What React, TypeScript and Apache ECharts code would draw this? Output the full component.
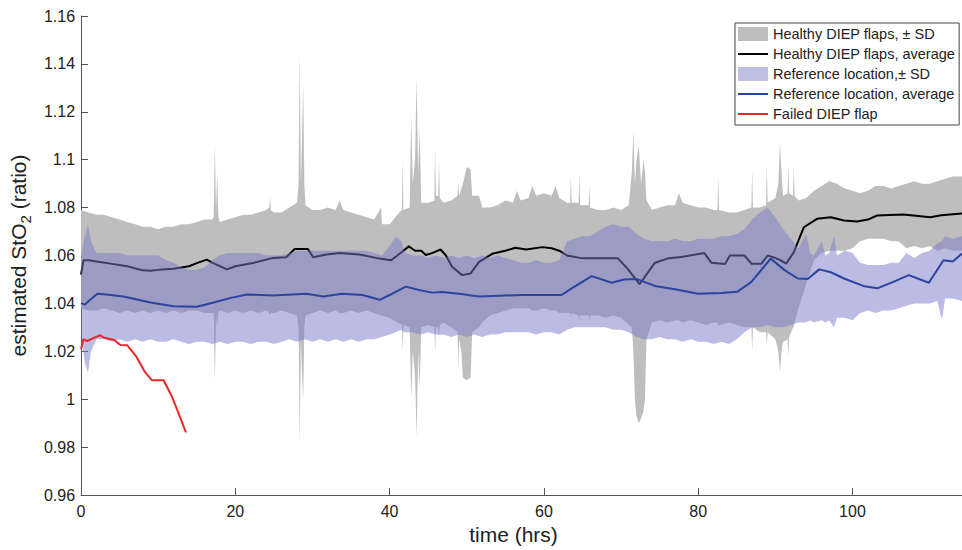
import React, { useEffect, useRef } from "react";
import * as echarts from "echarts";

const xTicks = [0, 20, 40, 60, 80, 100];
const xMax = 114.2;
const yMin = 0.96;
const yMax = 1.16;
const yStep = 0.02;

// [time, lower (mean - SD), upper (mean + SD)]
const healthyBand = [
  [0, 1.038, 1.079], [1, 1.037, 1.078], [2, 1.037, 1.077], [3, 1.038, 1.077], [4, 1.037, 1.076],
  [5, 1.036, 1.075], [6, 1.037, 1.074], [7, 1.036, 1.073], [8, 1.037, 1.072], [9, 1.036, 1.072],
  [10, 1.037, 1.071], [11, 1.036, 1.072], [12, 1.037, 1.072], [13, 1.036, 1.073], [14, 1.037, 1.073],
  [15, 1.037, 1.074], [16, 1.036, 1.075], [17, 1.036, 1.075], [17.2, 1.036, 1.076], [17.35, 1.007, 1.107],
  [17.5, 1.035, 1.078], [17.65, 1.03, 1.095], [17.8, 1.036, 1.076], [18, 1.037, 1.074], [19, 1.036, 1.075],
  [20, 1.037, 1.076], [21, 1.036, 1.077], [22, 1.037, 1.077], [23, 1.036, 1.078], [24, 1.037, 1.079],
  [24.4, 1.036, 1.08], [24.5, 1.035, 1.085], [24.6, 1.036, 1.079], [25, 1.036, 1.078], [26, 1.037, 1.078],
  [27, 1.036, 1.08], [28, 1.035, 1.082], [28.2, 1.03, 1.09], [28.35, 0.981, 1.145], [28.5, 1.025, 1.09],
  [28.65, 1.01, 1.11], [28.8, 1.0, 1.132], [28.95, 1.03, 1.09], [29.1, 1.035, 1.081], [30, 1.036, 1.079],
  [31, 1.037, 1.079], [32, 1.036, 1.08], [33, 1.037, 1.079], [33.5, 1.036, 1.083], [34, 1.036, 1.079],
  [35, 1.037, 1.078], [36, 1.036, 1.077], [37, 1.037, 1.076], [38, 1.036, 1.075], [38.9, 1.035, 1.08],
  [39, 1.035, 1.073], [40, 1.034, 1.073], [41, 1.032, 1.077], [41.6, 1.031, 1.079], [41.7, 1.02, 1.1],
  [41.8, 1.031, 1.079], [42.6, 1.03, 1.08], [42.8, 1.0, 1.118], [43, 1.02, 1.09], [43.3, 1.01, 1.1],
  [43.5, 0.984, 1.134], [43.7, 1.02, 1.095], [43.9, 1.005, 1.113], [44.1, 1.03, 1.082], [45, 1.031, 1.082],
  [45.8, 1.03, 1.083], [45.9, 1.019, 1.105], [46, 1.03, 1.085], [46.3, 1.03, 1.085], [46.4, 1.025, 1.1],
  [46.5, 1.031, 1.084], [47, 1.032, 1.082], [48, 1.03, 1.083], [48.8, 1.028, 1.085], [48.9, 1.012, 1.091],
  [49, 1.025, 1.085], [49.3, 1.02, 1.088], [49.5, 1.009, 1.09], [50, 1.008, 1.097], [50.5, 1.009, 1.096],
  [50.7, 1.028, 1.085], [51.6, 1.03, 1.085], [52, 1.032, 1.08], [53, 1.035, 1.08], [54, 1.036, 1.081],
  [55, 1.037, 1.083], [56, 1.038, 1.082], [56.5, 1.038, 1.087], [57, 1.038, 1.083], [58, 1.038, 1.084],
  [58.5, 1.037, 1.089], [59, 1.037, 1.085], [60, 1.038, 1.086], [61, 1.037, 1.085], [61.5, 1.037, 1.089],
  [62, 1.036, 1.084], [63, 1.036, 1.082], [63.4, 1.036, 1.082], [63.5, 1.034, 1.093], [63.6, 1.036, 1.082],
  [64.5, 1.035, 1.082], [64.6, 1.033, 1.094], [64.7, 1.035, 1.081], [65.8, 1.035, 1.081], [65.9, 1.033, 1.089],
  [66, 1.035, 1.08], [67, 1.035, 1.079], [68, 1.034, 1.079], [69, 1.035, 1.08], [70, 1.034, 1.079],
  [71, 1.031, 1.081], [71.4, 1.03, 1.095], [71.6, 1.02, 1.112], [71.8, 1.0, 1.09], [72, 0.993, 1.1],
  [72.3, 0.99, 1.106], [72.6, 0.992, 1.09], [72.9, 0.995, 1.1], [73.1, 1.0, 1.095], [73.3, 1.025, 1.083],
  [74, 1.032, 1.079], [75, 1.033, 1.08], [76, 1.032, 1.081], [77, 1.033, 1.081], [77.5, 1.033, 1.086],
  [78, 1.032, 1.082], [79, 1.033, 1.081], [80, 1.032, 1.08], [81, 1.031, 1.08], [82, 1.032, 1.079],
  [82.5, 1.032, 1.079], [82.6, 1.03, 1.093], [82.7, 1.031, 1.079], [84, 1.032, 1.078], [85, 1.031, 1.078],
  [86, 1.03, 1.079], [86.9, 1.03, 1.08], [87, 1.02, 1.096], [87.1, 1.03, 1.08], [88, 1.028, 1.08],
  [88.8, 1.028, 1.081], [88.9, 1.022, 1.098], [89, 1.028, 1.082], [90, 1.025, 1.084], [90.4, 1.02, 1.09],
  [90.6, 1.011, 1.107], [90.8, 1.02, 1.095], [91, 1.024, 1.085], [91.6, 1.025, 1.086], [91.7, 1.018, 1.098],
  [91.8, 1.026, 1.086], [92.3, 1.03, 1.085], [92.4, 1.03, 1.097], [92.5, 1.032, 1.085], [93, 1.038, 1.083],
  [94, 1.048, 1.084], [95, 1.058, 1.087], [96, 1.061, 1.089], [97, 1.062, 1.091], [98, 1.062, 1.09],
  [99, 1.062, 1.088], [100, 1.063, 1.087], [101, 1.066, 1.086], [102, 1.067, 1.087], [103, 1.067, 1.089],
  [104, 1.067, 1.089], [105, 1.066, 1.088], [106, 1.066, 1.089], [107, 1.063, 1.09], [108, 1.064, 1.091],
  [109, 1.063, 1.09], [110, 1.064, 1.09], [111, 1.062, 1.091], [112, 1.063, 1.092], [113, 1.062, 1.093],
  [114.2, 1.062, 1.093],
];

// [time, lower, upper]
const referenceBand = [
  [0, 1.027, 1.06], [0.5, 1.015, 1.068], [0.9, 1.011, 1.073], [1.3, 1.02, 1.066], [2, 1.025, 1.061],
  [3, 1.025, 1.061], [4, 1.024, 1.061], [5, 1.025, 1.061], [6, 1.024, 1.06], [7, 1.025, 1.06],
  [8, 1.024, 1.06], [9, 1.025, 1.06], [10, 1.024, 1.06], [11, 1.024, 1.058], [12, 1.025, 1.057],
  [13, 1.024, 1.055], [14, 1.023, 1.054], [15, 1.024, 1.054], [16, 1.024, 1.055], [17, 1.023, 1.058],
  [18, 1.024, 1.06], [19, 1.023, 1.061], [20, 1.024, 1.061], [21, 1.024, 1.061], [22, 1.023, 1.061],
  [23, 1.024, 1.061], [24, 1.024, 1.06], [25, 1.023, 1.06], [26, 1.024, 1.06], [27, 1.025, 1.061],
  [28, 1.024, 1.062], [29, 1.025, 1.062], [30, 1.024, 1.062], [31, 1.025, 1.062], [32, 1.024, 1.062],
  [33, 1.025, 1.062], [34, 1.024, 1.062], [35, 1.025, 1.062], [36, 1.024, 1.062], [37, 1.025, 1.062],
  [38, 1.025, 1.061], [39, 1.026, 1.06], [40, 1.027, 1.064], [40.8, 1.028, 1.068], [41.5, 1.029, 1.066],
  [42, 1.028, 1.061], [43, 1.028, 1.06], [44, 1.027, 1.06], [45, 1.028, 1.059], [46, 1.027, 1.06],
  [47, 1.027, 1.059], [48, 1.026, 1.06], [49, 1.027, 1.059], [50, 1.026, 1.06], [51, 1.027, 1.059],
  [52, 1.026, 1.06], [53, 1.027, 1.059], [54, 1.027, 1.06], [55, 1.028, 1.059], [56, 1.028, 1.058],
  [57, 1.028, 1.057], [58, 1.028, 1.057], [59, 1.027, 1.058], [60, 1.028, 1.057], [61, 1.028, 1.057],
  [62, 1.027, 1.058], [63, 1.029, 1.066], [64, 1.03, 1.067], [65, 1.03, 1.068], [66, 1.03, 1.068],
  [67, 1.03, 1.07], [68, 1.03, 1.072], [69, 1.029, 1.073], [70, 1.029, 1.072], [71, 1.028, 1.072],
  [72, 1.026, 1.069], [73, 1.025, 1.067], [74, 1.025, 1.066], [75, 1.026, 1.066], [76, 1.025, 1.066],
  [77, 1.025, 1.067], [78, 1.024, 1.066], [79, 1.025, 1.066], [80, 1.024, 1.067], [81, 1.024, 1.067],
  [82, 1.023, 1.067], [83, 1.024, 1.068], [84, 1.023, 1.068], [85, 1.025, 1.069], [86, 1.028, 1.071],
  [87, 1.03, 1.075], [88, 1.03, 1.078], [89, 1.031, 1.08], [90, 1.03, 1.076], [91, 1.03, 1.071],
  [92, 1.031, 1.067], [93, 1.032, 1.063], [94, 1.032, 1.069], [94.5, 1.033, 1.061], [95, 1.032, 1.06],
  [96, 1.033, 1.066], [96.5, 1.032, 1.06], [97, 1.033, 1.061], [97.6, 1.03, 1.068], [98, 1.034, 1.06],
  [99, 1.034, 1.062], [100, 1.033, 1.061], [101, 1.036, 1.057], [102, 1.037, 1.056], [103, 1.036, 1.056],
  [104, 1.037, 1.056], [105, 1.037, 1.057], [106, 1.038, 1.057], [107, 1.039, 1.061], [108, 1.04, 1.059],
  [109, 1.04, 1.061], [110, 1.04, 1.062], [111, 1.041, 1.065], [111.6, 1.033, 1.066], [112, 1.042, 1.068],
  [113, 1.042, 1.067], [114.2, 1.041, 1.068],
];

const healthyAvg = [
  [0, 1.052], [0.3, 1.058], [1, 1.058], [2, 1.0575], [4, 1.0565], [6, 1.0555], [8, 1.0538], [9, 1.0536],
  [10, 1.054], [12, 1.0545], [13, 1.055], [14, 1.0555], [15, 1.0568], [16.3, 1.0583], [17, 1.057],
  [18.9, 1.0542], [20, 1.0555], [22.3, 1.0569], [24.9, 1.059], [26.6, 1.0593], [27.7, 1.0627],
  [29.4, 1.0627], [30.1, 1.0593], [31.8, 1.0604], [33.5, 1.061], [36.1, 1.0604], [38.7, 1.0587],
  [40.2, 1.058], [41, 1.06], [42.5, 1.0638], [43.3, 1.062], [44.1, 1.062], [44.7, 1.0602], [45.5, 1.061],
  [46.6, 1.0625], [47.3, 1.06], [48.1, 1.0553], [49.4, 1.0518], [50.5, 1.0525], [51.6, 1.0573],
  [53.3, 1.0607], [55, 1.062], [56.3, 1.0632], [57.7, 1.0625], [59.8, 1.0635], [61, 1.063], [62, 1.062],
  [63, 1.06], [65, 1.0588], [67, 1.0588], [69.6, 1.0588], [70.7, 1.055], [72.4, 1.048], [74.4, 1.057],
  [76, 1.0587], [78, 1.0595], [80.8, 1.061], [81.7, 1.057], [83.5, 1.0565], [84.1, 1.06], [86, 1.06],
  [86.9, 1.0566], [88.2, 1.0566], [89, 1.06], [90, 1.059], [90.7, 1.058], [91.4, 1.0566], [92.4, 1.0614],
  [93.7, 1.0718], [95.4, 1.0753], [97.2, 1.076], [98.9, 1.0746], [100.6, 1.0742], [102, 1.075],
  [103.2, 1.0767], [106.6, 1.0771], [110.1, 1.076], [111.5, 1.0768], [114.2, 1.0775],
];

const referenceAvg = [
  [0, 1.0401], [0.5, 1.0395], [1, 1.041], [2.1, 1.044], [3, 1.0438], [5.5, 1.0429], [9, 1.0404],
  [12, 1.0388], [15, 1.0386], [17.2, 1.0404], [19.3, 1.0422], [21.5, 1.0437], [24.9, 1.0433],
  [29.2, 1.044], [31.4, 1.0429], [33.9, 1.044], [36.5, 1.0435], [38.7, 1.0415], [40, 1.0435],
  [42.1, 1.047], [43.8, 1.0456], [45.5, 1.0445], [46.8, 1.0448], [49, 1.044], [51.6, 1.0429],
  [55, 1.0433], [57.2, 1.0435], [62.3, 1.0435], [63.6, 1.0463], [66.2, 1.0514], [68.8, 1.0486],
  [70.4, 1.05], [72, 1.0502], [74.4, 1.0473], [77, 1.0459], [80, 1.044], [83, 1.0443], [85.1, 1.0449],
  [86.9, 1.049], [89.4, 1.0587], [91.2, 1.0539], [92.9, 1.0504], [94.2, 1.0502], [95.7, 1.0542],
  [97.2, 1.053], [98.9, 1.0504], [101.4, 1.0473], [103.2, 1.0463], [105.3, 1.049], [107.3, 1.0518],
  [109.9, 1.0486], [111.8, 1.058], [113, 1.0575], [114.2, 1.0608],
];

const failedFlap = [
  [0, 1.0209], [0.3, 1.025], [0.8, 1.0243], [1.6, 1.0255], [2.5, 1.0267], [2.9, 1.0258], [4.3, 1.0247],
  [5.1, 1.0226], [6, 1.0225], [7.1, 1.0181], [8.3, 1.0113], [9.2, 1.0079], [10.7, 1.0079], [11.8, 1.001],
  [12.9, 0.992], [13.6, 0.9861],
];

const FONT = "'Liberation Sans', Arial, Helvetica, sans-serif";
const AXIS_COLOR = "#555";
const TEXT_COLOR = "#222";
const GRAY_FILL = "#bebebe";
const REF_FILL = "rgba(120,120,200,0.5)";
const REF_LEGEND = "#bfbfe4";
const BLACK = "#000";
const BLUE = "#2a44a0";
const RED = "#e8262b";
const LINE_ICON = "path://M0,0 H30 V2 H0 Z";

function bandRenderer(fill: string) {
  return (params: any, api: any) => {
    if (params.dataIndexInside !== 0) return null;
    const n = params.dataInsideLength;
    const upper: number[][] = [];
    const lower: number[][] = [];
    for (let i = 0; i < n; i++) {
      const t = api.value(0, i);
      upper.push(api.coord([t, api.value(2, i)]));
      lower.push(api.coord([t, api.value(1, i)]));
    }
    return {
      type: "polygon",
      shape: { points: upper.concat(lower.reverse()) },
      style: { fill, stroke: null },
      silent: true,
    };
  };
}

export default function App() {
  const ref = useRef<HTMLDivElement>(null);

  useEffect(() => {
    if (!ref.current) return;
    const chart = echarts.init(ref.current, null, { renderer: "svg" });

    chart.setOption({
      animation: false,
      textStyle: { fontFamily: FONT },
      grid: { left: 77, right: 0, top: 16, bottom: 49, containLabel: false },
      xAxis: {
        type: "value",
        min: 0,
        max: xMax,
        interval: 20,
        name: "time (hrs)",
        nameLocation: "middle",
        nameGap: 29,
        nameTextStyle: { fontSize: 21, color: TEXT_COLOR, fontFamily: FONT, padding: [0, 16, 0, 0] },
        axisLine: { show: true, lineStyle: { color: AXIS_COLOR, width: 1 } },
        axisTick: { show: true, inside: true, length: 7, lineStyle: { color: AXIS_COLOR }, customValues: xTicks },
        axisLabel: { fontSize: 16, color: TEXT_COLOR, margin: 8, fontFamily: FONT, customValues: xTicks },
        splitLine: { show: false },
      },
      yAxis: {
        type: "value",
        min: yMin,
        max: yMax,
        interval: yStep,
        name: "estimated StO{sub|2} (ratio)",
        nameLocation: "middle",
        nameGap: 40,
        nameTextStyle: {
          fontSize: 21,
          color: TEXT_COLOR,
          fontFamily: FONT,
          rich: { sub: { fontSize: 15, fontFamily: FONT, color: TEXT_COLOR, padding: [14, 0, 0, 0] } },
        },
        axisLine: { show: true, lineStyle: { color: AXIS_COLOR, width: 1 } },
        axisTick: { show: true, inside: true, length: 7, lineStyle: { color: AXIS_COLOR } },
        axisLabel: {
          fontSize: 16,
          color: TEXT_COLOR,
          margin: 6,
          fontFamily: FONT,
          formatter: (v: number) => String(parseFloat(v.toFixed(2))),
        },
        splitLine: { show: false },
      },
      legend: {
        orient: "vertical",
        left: 735,
        top: 23,
        padding: [3, 4, 3, 3],
        itemGap: 4,
        itemWidth: 30,
        itemHeight: 14,
        backgroundColor: "#fff",
        borderColor: "#444",
        borderWidth: 1,
        selectedMode: false,
        textStyle: { fontSize: 14.5, color: TEXT_COLOR, lineHeight: 16, fontFamily: FONT },
        data: [
          { name: "Healthy DIEP flaps, ± SD", icon: "rect", itemStyle: { color: GRAY_FILL, borderWidth: 0 } },
          { name: "Healthy DIEP flaps, average", icon: LINE_ICON, itemStyle: { color: BLACK, borderWidth: 0 } },
          { name: "Reference location,± SD", icon: "rect", itemStyle: { color: REF_LEGEND, borderWidth: 0 } },
          { name: "Reference location, average", icon: LINE_ICON, itemStyle: { color: BLUE, borderWidth: 0 } },
          { name: "Failed DIEP flap", icon: LINE_ICON, itemStyle: { color: RED, borderWidth: 0 } },
        ],
      },
      series: [
        {
          type: "custom",
          name: "Healthy DIEP flaps, ± SD",
          data: healthyBand,
          encode: { x: 0, y: [1, 2] },
          color: GRAY_FILL,
          silent: true,
          z: 1,
          renderItem: bandRenderer(GRAY_FILL),
        },
        {
          type: "line",
          name: "Healthy DIEP flaps, average",
          data: healthyAvg,
          symbol: "none",
          silent: true,
          z: 2,
          color: BLACK,
          lineStyle: { width: 2, color: BLACK },
        },
        {
          type: "custom",
          name: "Reference location,± SD",
          data: referenceBand,
          encode: { x: 0, y: [1, 2] },
          color: REF_LEGEND,
          silent: true,
          z: 3,
          renderItem: bandRenderer(REF_FILL),
        },
        {
          type: "line",
          name: "Reference location, average",
          data: referenceAvg,
          symbol: "none",
          silent: true,
          z: 4,
          color: BLUE,
          lineStyle: { width: 2, color: BLUE },
        },
        {
          type: "line",
          name: "Failed DIEP flap",
          data: failedFlap,
          symbol: "none",
          silent: true,
          z: 5,
          color: RED,
          lineStyle: { width: 2, color: RED },
        },
      ],
    });

    return () => chart.dispose();
  }, []);

  return (
    <div
      ref={ref}
      style={{ position: "absolute", left: 0, top: 0, width: 962, height: 550, background: "#fff" }}
    />
  );
}
